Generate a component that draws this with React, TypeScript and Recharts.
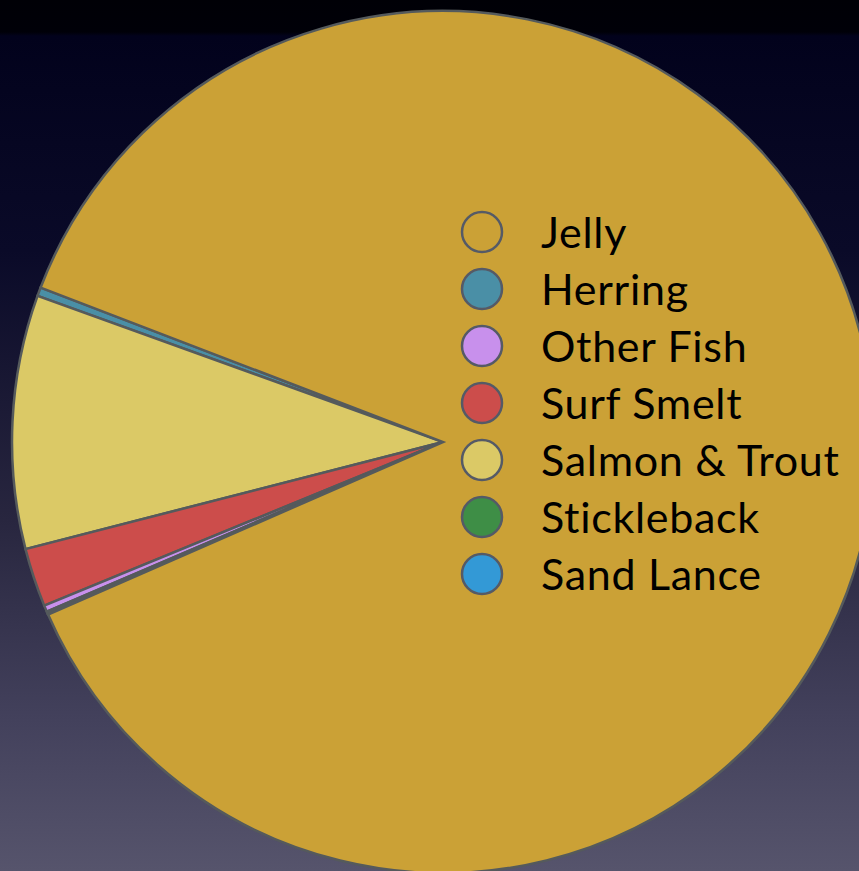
import { PieChart, Pie, Cell, Legend } from 'recharts';

// pie order (counter-clockwise from the herring sliver)
const names = ['Herring', 'Salmon & Trout', 'Surf Smelt', 'Other Fish', 'Stickleback', 'Sand Lance', 'Jelly'];
const values = [0.33, 9.5, 2.2, 0.24, 0.06, 0.06, 87.61];
const colors = ['#4a8fa6', '#dbc966', '#cc4d4b', '#c890ec', '#3e8e46', '#3399d6', '#cba136'];

// legend order as shown on the slide
const legendOrder = ['Jelly', 'Herring', 'Other Fish', 'Surf Smelt', 'Salmon & Trout', 'Stickleback', 'Sand Lance'];

const data = names.map((name, i) => ({ name, value: values[i], color: colors[i] }));

const renderLegend = () => (
    <div style={{ display: 'flex', flexDirection: 'column' }}>
        {legendOrder.map((name) => {
            const d = data.find((x) => x.name === name)!;
            return (
                <div key={name} style={{ display: 'flex', alignItems: 'center', height: 57 }}>
                    <svg width={46} height={46} style={{ marginRight: 36 }}>
                        <circle cx={23} cy={23} r={20} fill={d.color} stroke="#555a66" strokeWidth={2.5} />
                    </svg>
                    <span style={{ fontFamily: 'Lato, sans-serif', fontSize: 43, letterSpacing: 0.7, color: '#000', lineHeight: 1 }}>
                        {name}
                    </span>
                </div>
            );
        })}
    </div>
);

export default function App() {
    return (
        <div
            style={{
                position: 'absolute',
                left: 0,
                top: 0,
                width: 859,
                height: 871,
                overflow: 'hidden',
                background:
                    'linear-gradient(to bottom, #000006 0px, #000008 32px, #02021c 36px, #0a0a28 250px, #28263f 520px, #43415c 720px, #56546c 871px)',
            }}
        >
            <PieChart width={859} height={871}>
                <Pie
                    data={data}
                    dataKey="value"
                    nameKey="name"
                    cx={438}
                    cy={437}
                    outerRadius={431}
                    startAngle={159}
                    endAngle={519}
                    stroke="#555a5c"
                    strokeWidth={2.5}
                    isAnimationActive={false}
                >
                    {data.map((d) => (
                        <Cell key={d.name} fill={d.color} />
                    ))}
                </Pie>
                <Legend
                    layout="vertical"
                    content={renderLegend}
                    wrapperStyle={{ left: 459, top: 203, width: 400 }}
                />
            </PieChart>
        </div>
    );
}
